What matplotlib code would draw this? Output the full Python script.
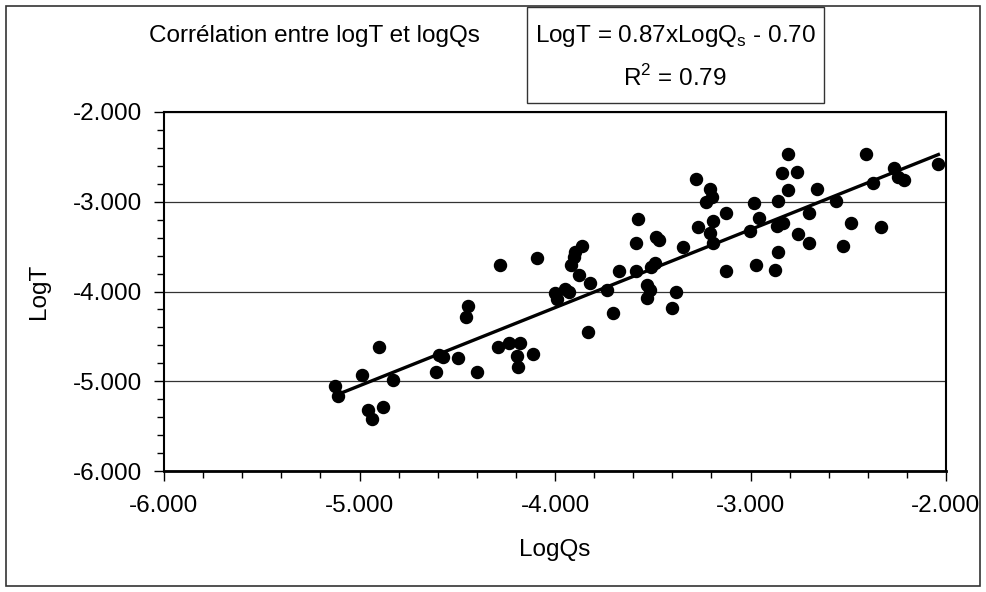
import numpy as np
import matplotlib
matplotlib.use("Agg")
import matplotlib.pyplot as plt
from matplotlib.patches import Rectangle
from matplotlib.ticker import MultipleLocator, FormatStrFormatter

plt.rcParams['font.family'] = ['Liberation Sans', 'DejaVu Sans']
plt.rcParams['mathtext.fontset'] = 'custom'
plt.rcParams['mathtext.rm'] = 'Liberation Sans'

# donnees (LogQs, LogT)
log_qs = [-4.447, -4.455, -4.899, -4.986, -5.125, -5.108, -4.827, -4.955, -4.938, -4.881,
          -4.595, -4.571, -4.609, -4.495, -4.397,
          -3.574, -3.587, -3.587, -3.674, -3.862, -3.896, -3.903, -3.920, -3.879, -3.821,
          -3.732, -3.702, -3.830, -4.094, -4.283, -4.000, -3.949, -3.927, -3.991,
          -4.290, -4.234, -4.179, -4.193, -4.111, -4.188,
          -2.807, -2.840, -2.764, -2.808, -2.858, -2.981, -2.955, -3.003, -2.866, -2.832,
          -2.756, -2.858, -2.972, -2.875, -3.125, -3.125, -3.279, -3.207, -3.199, -3.228,
          -3.190, -3.270, -3.207, -3.193, -3.344, -3.483, -3.466, -3.488, -3.511,
          -3.531, -3.514, -3.528, -3.383, -3.400,
          -2.661, -2.409, -2.039, -2.265, -2.244, -2.215, -2.372, -2.563, -2.702,
          -2.486, -2.332, -2.702, -2.527]
log_t = [-4.159, -4.282, -4.617, -4.929, -5.058, -5.166, -4.991, -5.322, -5.423, -5.285,
         -4.709, -4.735, -4.895, -4.746, -4.895,
         -3.196, -3.457, -3.769, -3.776, -3.494, -3.561, -3.613, -3.706, -3.814, -3.910,
         -3.984, -4.244, -4.453, -3.628, -3.702, -4.015, -3.977, -4.007, -4.088,
         -4.617, -4.579, -4.579, -4.720, -4.698, -4.846,
         -2.468, -2.677, -2.666, -2.870, -2.992, -3.011, -3.178, -3.323, -3.271, -3.241,
         -3.363, -3.557, -3.706, -3.761, -3.773, -3.123, -2.750, -2.862, -2.944, -3.000,
         -3.215, -3.279, -3.346, -3.464, -3.502, -3.390, -3.427, -3.680, -3.725,
         -3.929, -3.984, -4.077, -4.003, -4.188,
         -2.862, -2.468, -2.580, -2.628, -2.728, -2.758, -2.788, -2.989, -3.123,
         -3.234, -3.285, -3.464, -3.494]

pente = 0.87
ordonnee = -0.70
r2 = 0.79

x = np.array(log_qs)
y = np.array(log_t)

fig = plt.figure(figsize=(9.86, 5.92), dpi=100)
W, H = 986.0, 592.0

# cadre exterieur
fig.patches.append(Rectangle((6 / W, 6 / H), 974 / W, 580 / H, transform=fig.transFigure,
                             fill=False, edgecolor='#333333', linewidth=1.2))

ax = fig.add_axes([164 / W, 1 - 471 / H, 782 / W, 359 / H])
ax.scatter(x, y, s=75, color='black', zorder=3)
xl = np.array([x.min(), x.max()])
ax.plot(xl, pente * xl + ordonnee, color='black', linewidth=2.4, zorder=4)

ax.set_xlim(-6, -2)
ax.set_ylim(-6, -2)
ax.xaxis.set_major_locator(MultipleLocator(1))
ax.xaxis.set_minor_locator(MultipleLocator(0.2))
ax.yaxis.set_major_locator(MultipleLocator(1))
ax.yaxis.set_minor_locator(MultipleLocator(0.2))
ax.xaxis.set_major_formatter(FormatStrFormatter('%.3f'))
ax.yaxis.set_major_formatter(FormatStrFormatter('%.3f'))
ax.tick_params(which='major', direction='out', length=7, width=1, labelsize=17.5, pad=10)
ax.tick_params(which='minor', direction='out', length=5, width=1)
ax.tick_params(axis='y', which='major', pad=9)
ax.grid(axis='y', which='major', color='#333333', linewidth=0.9)
for sp in ax.spines.values():
    sp.set_linewidth(1.5)
ax.spines['bottom'].set_linewidth(2)

ax.set_xlabel('LogQs', fontsize=17.5, labelpad=16)
ax.set_ylabel('LogT', fontsize=17.5, labelpad=16)

fig.text(314 / W, 1 - 36 / H, 'Corrélation entre logT et logQs', fontsize=17.5,
         ha='center', va='center')

fig.patches.append(Rectangle((527 / W, 1 - 103 / H), 297 / W, 96 / H, transform=fig.transFigure,
                             fill=False, edgecolor='#333333', linewidth=1))
fig.text(675 / W, 1 - 36 / H, r'LogT = %.2fxLogQ$_{\mathregular{s}}$ - %.2f' % (pente, -ordonnee),
         fontsize=17.5, ha='center', va='center')
fig.text(675 / W, 1 - 78 / H, r'R$^{\mathregular{2}}$ = %.2f' % r2, fontsize=17.5,
         ha='center', va='center')

fig.savefig('out.png', dpi=100)
